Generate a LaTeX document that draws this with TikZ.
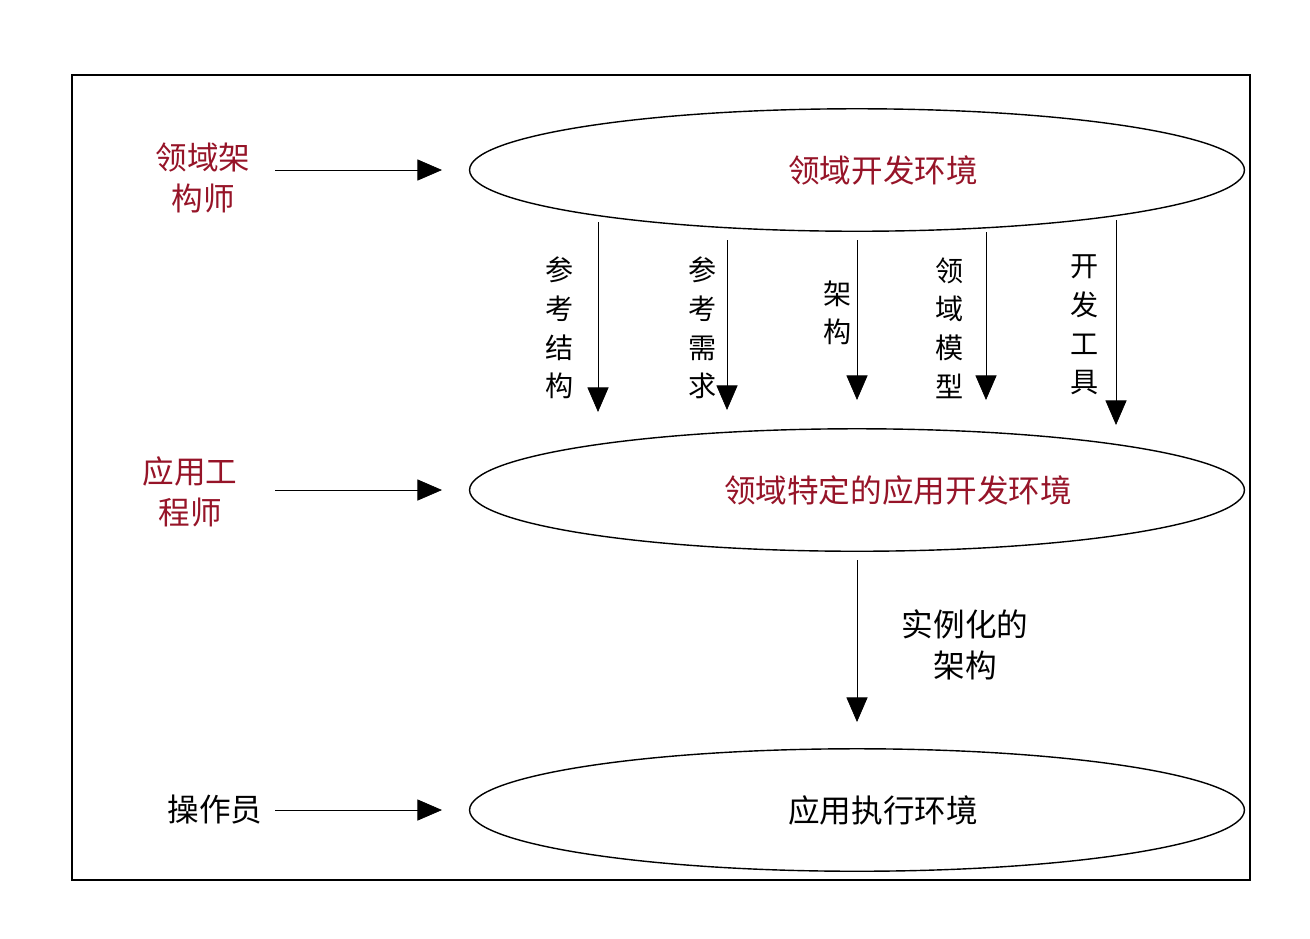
\documentclass[tikz,border=0pt]{standalone}
\usepackage{fontspec}
\setmainfont{Noto Sans CJK SC}
\usetikzlibrary{arrows.meta,shapes.geometric}
\definecolor{darkred}{RGB}{150,20,40}

\begin{document}
\begin{tikzpicture}[x=0.02cm,y=-0.02cm,
    env/.style={ellipse,draw,thick,minimum width=15.5cm,minimum height=2.45cm},
    envtext/.style={font=\fontsize{18}{21}\selectfont},
    role/.style={align=center,font=\fontsize{18}{23}\selectfont},
    flow/.style={draw,-{Triangle[length=14pt,width=12pt]}},
    vlab/.style={align=center,font=\fontsize{16}{22}\selectfont}]
\useasboundingbox (0,0) rectangle (1310,938);
\draw[thick] (72,75) rectangle (1250,880);

\begin{scope}[every node/.style={env}]
    \node (dev) at (857,170) {};
    \node (app) at (857,490) {};
    \node (run) at (857,810) {};
\end{scope}
\node[envtext,text=darkred] (devlab) at (883,170) {领域开发环境};
\node[envtext,text=darkred] (applab) at (898,490) {领域特定的应用开发环境};
\node[envtext] (runlab) at (883,810) {应用执行环境};

\begin{scope}[every node/.style={role}]
    \node[text=darkred] (arch) at (203,178) {领域架\\构师};
    \node[text=darkred] (eng) at (190,492) {应用工\\程师};
    \node (op) at (215,810) {操作员};
\end{scope}

\coordinate (a1) at (275,170);
\coordinate (b1) at (442,170);
\coordinate (a2) at (275,490);
\coordinate (b2) at (442,490);
\coordinate (a3) at (275,810);
\coordinate (b3) at (442,810);
\path[flow] (a1) -- (b1);
\path[flow] (a2) -- (b2);
\path[flow] (a3) -- (b3);

% vertical products of domain engineering
\foreach \x/\ys/\ye/\lx/\ly/\txt in {598/222/412/560/328/参\\考\\结\\构,
    727/240/410/703/328/参\\考\\需\\求,
    857/240/400/838/313/架\\构,
    986/232/400/950/328/领\\域\\模\\型,
    1116/220/425/1085/325/开\\发\\工\\具}{
  \coordinate (s\x) at (\x,\ys);
  \coordinate (e\x) at (\x,\ye);
  \path[flow] (s\x) -- (e\x);
  \node[vlab] (l\x) at (\lx,\ly) {\txt};
}

\coordinate (inst) at (857,560);
\coordinate (insend) at (857,722);
\path[flow] (inst) -- (insend);
\node[role] (instlab) at (965,645) {实例化的\\架构};
\end{tikzpicture}
\end{document}
